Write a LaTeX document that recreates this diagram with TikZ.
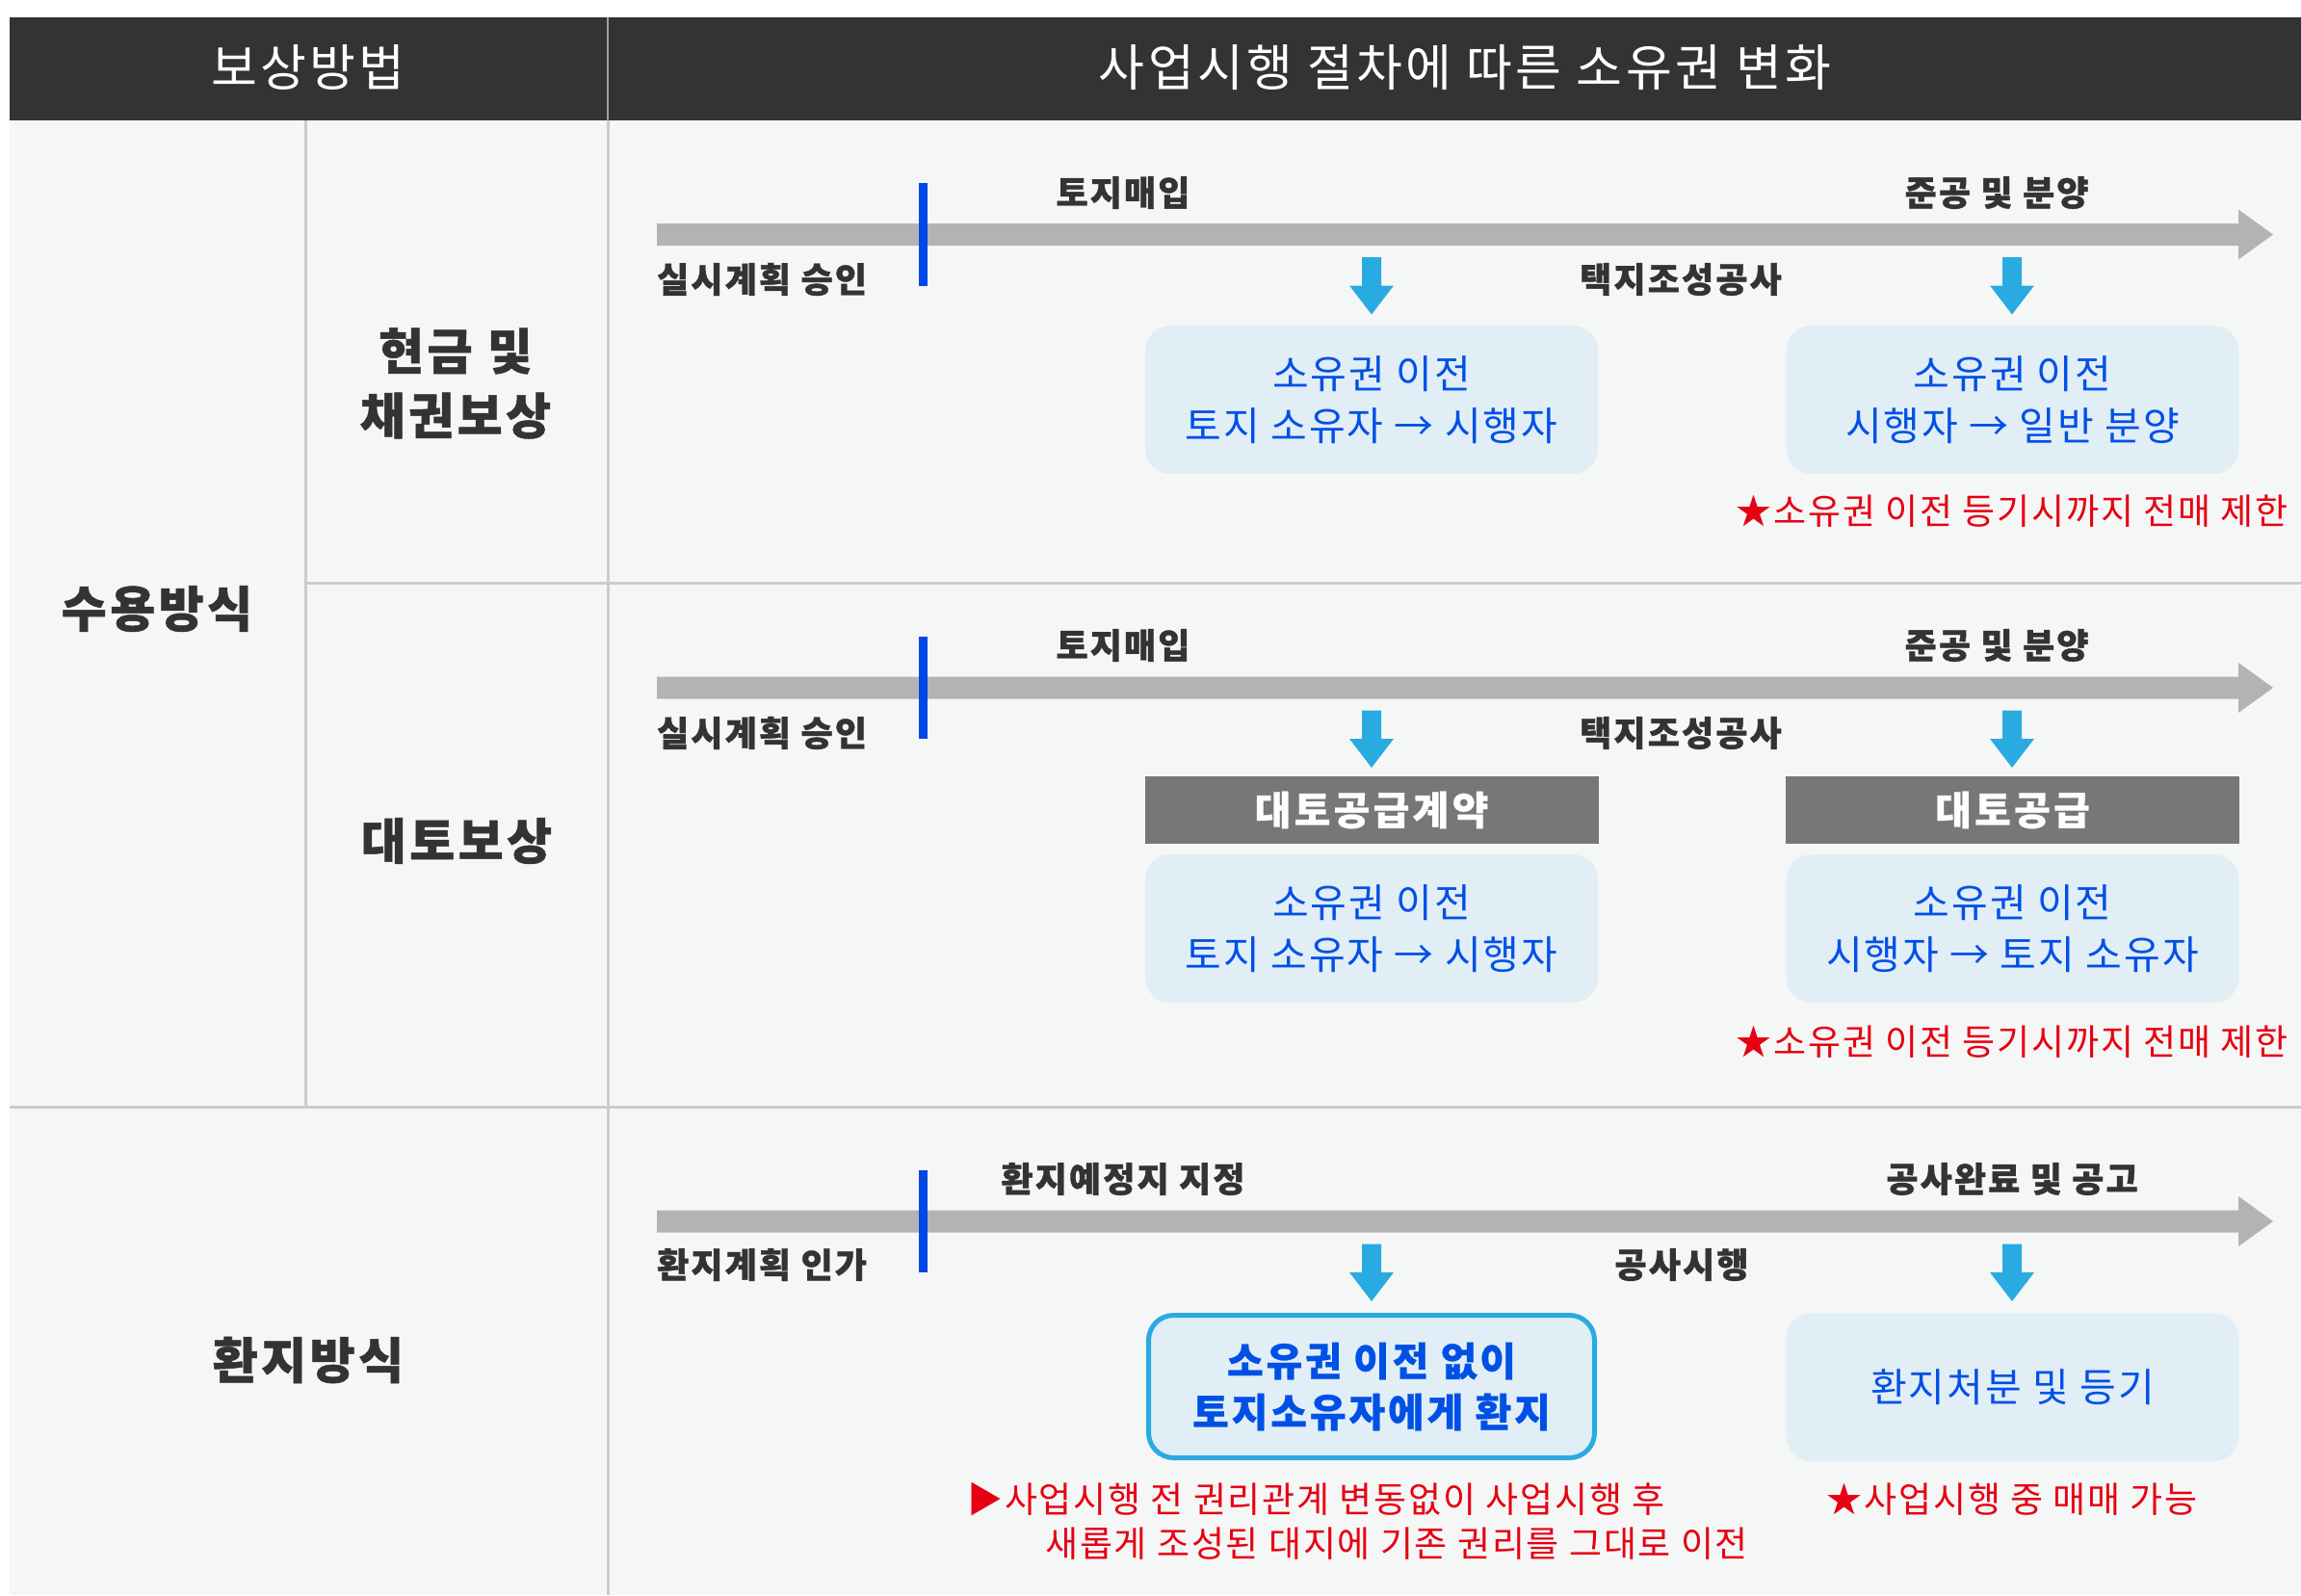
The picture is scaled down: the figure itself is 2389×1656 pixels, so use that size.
\documentclass[tikz,border=0pt]{standalone}
\usepackage{fontspec}
\setmainfont{Noto Sans CJK KR}
\definecolor{hdr}{HTML}{333333}
\definecolor{bgc}{HTML}{F5F7F6}
\definecolor{divc}{HTML}{CCCCCC}
\definecolor{barc}{HTML}{B3B3B3}
\definecolor{bluel}{HTML}{0047E6}
\definecolor{arrc}{HTML}{29ABE2}
\definecolor{lboxc}{HTML}{E1EEF6}
\definecolor{txtblue}{HTML}{0050E6}
\definecolor{gboxc}{HTML}{777777}
\definecolor{redc}{HTML}{E60012}
\definecolor{txtd}{HTML}{333333}
\begin{document}
\begin{tikzpicture}[x=1pt,y=-1pt,
  lbl/.style={font=\fontsize{36}{40}\selectfont\bfseries\addfontfeatures{LetterSpace=6,FakeBold=1}, text=txtd, inner sep=0pt},
  side/.style={font=\fontsize{51}{67}\selectfont\bfseries\addfontfeatures{LetterSpace=7,FakeBold=1}, text=txtd, inner sep=0pt, align=center},
  headtxt/.style={font=\fontsize{52}{60}\selectfont\addfontfeatures{LetterSpace=6.5}, text=white, inner sep=0pt},
  lbox/.style={fill=lboxc, rounded corners=26pt, minimum width=470pt, minimum height=154pt, inner sep=0pt,
    align=center, text=txtblue, font=\fontsize{41}{54}\selectfont\addfontfeatures{LetterSpace=5}},
  bbox/.style={fill=lboxc, draw=arrc, line width=5pt, rounded corners=26pt, minimum width=463pt, minimum height=148pt,
    inner sep=0pt, align=center, text=txtblue, font=\fontsize{41}{53}\selectfont\bfseries\addfontfeatures{LetterSpace=7,FakeBold=0.6}},
  gbox/.style={fill=gboxc, minimum width=471pt, minimum height=70pt, inner sep=0pt, text=white,
    font=\fontsize{41}{44}\selectfont\bfseries\addfontfeatures{LetterSpace=8,FakeBold=0.6}},
  note/.style={font=\fontsize{37}{46}\selectfont\addfontfeatures{LetterSpace=5}, text=redc, inner sep=0pt},
  divline/.style={draw=divc, line width=3pt},
  downarr/.pic={\fill[arrc] (-10,0) -- (10,0) -- (10,29.5) -- (23,29.5) -- (0,59.5) -- (-23,29.5) -- (-10,29.5) -- cycle;},
  timeline/.pic={\fill[barc] (682,-11.5) -- (2324,-11.5) -- (2324,-26) -- (2360,0) -- (2324,26) -- (2324,11.5) -- (682,11.5) -- cycle;
    \fill[bluel] (953.5,-53) rectangle (962.5,53);}
]
\useasboundingbox (0,0) rectangle (2389,1656);
\fill[white] (0,0) rectangle (2389,1656);
\fill[bgc] (10,125) rectangle (2389,1656);
\fill[hdr] (10,18) rectangle (2389,125);
\draw[gray!75, line width=2pt] (631,18) -- (631,125);
% dividers
\draw[divline] (631,125) -- (631,1656);
\draw[divline] (317,125) -- (317,1149);
\draw[divline] (317,605) -- (2389,605);
\draw[divline] (10,1149) -- (2389,1149);
% header
\node[headtxt] (h1) at (320,70) {보상방법};
\node[headtxt] (h2) at (1521,70) {사업시행 절차에 따른 소유권 변화};
% side labels
\node[side] (s1) at (163,632) {수용방식};
\node[side] (s2) at (473,398) {현금 및\\채권보상};
\node[side] (s3) at (474,873) {대토보상};
\node[side] (s4) at (320,1412) {환지방식};
% row 1
\pic at (0,243.5) {timeline};
\node[lbl] (r1a) at (1166,200) {토지매입};
\node[lbl, anchor=west] (r1b) at (682,290) {실시계획 승인};
\node[lbl] (r1c) at (2073,200) {준공 및 분양};
\node[lbl] (r1d) at (1745,290) {택지조성공사};
\pic at (1424,267) {downarr};
\pic at (2089,267) {downarr};
\node[lbox] (r1x) at (1424,415) {소유권 이전\\토지 소유자 → 시행자};
\node[lbox] (r1y) at (2089.5,415) {소유권 이전\\시행자 → 일반 분양};
\node[note] (r1n) at (2089,531) {★소유권 이전 등기시까지 전매 제한};
% row 2
\pic at (0,714) {timeline};
\node[lbl] (r2a) at (1166,670) {토지매입};
\node[lbl, anchor=west] (r2b) at (682,761) {실시계획 승인};
\node[lbl] (r2c) at (2073,670) {준공 및 분양};
\node[lbl] (r2d) at (1745,761) {택지조성공사};
\pic at (1424,737.5) {downarr};
\pic at (2089,737.5) {downarr};
\node[gbox] (r2g1) at (1424,841) {대토공급계약};
\node[gbox] (r2g2) at (2089.5,841) {대토공급};
\node[lbox] (r2x) at (1424,964) {소유권 이전\\토지 소유자 → 시행자};
\node[lbox] (r2y) at (2089.5,964) {소유권 이전\\시행자 → 토지 소유자};
\node[note] (r2n) at (2089,1082) {★소유권 이전 등기시까지 전매 제한};
% row 3
\pic at (0,1268) {timeline};
\node[lbl] (r3a) at (1166,1224) {환지예정지 지정};
\node[lbl, anchor=west] (r3b) at (682,1313) {환지계획 인가};
\node[lbl] (r3c) at (2089,1224) {공사완료 및 공고};
\node[lbl] (r3d) at (1746,1313) {공사시행};
\pic at (1424,1291.5) {downarr};
\pic at (2089,1291.5) {downarr};
\node[bbox] (r3x) at (1424,1439.5) {소유권 이전 없이\\토지소유자에게 환지};
\node[lbox] (r3y) at (2089.5,1440) {환지처분 및 등기};
\node[note, anchor=west] (r3n1) at (1004,1557) {▶사업시행 전 권리관계 변동없이 사업시행 후};
\node[note, anchor=west] (r3n2) at (1085,1603) {새롭게 조성된 대지에 기존 권리를 그대로 이전};
\node[note] (r3n3) at (2089,1557) {★사업시행 중 매매 가능};
\end{tikzpicture}
\end{document}
